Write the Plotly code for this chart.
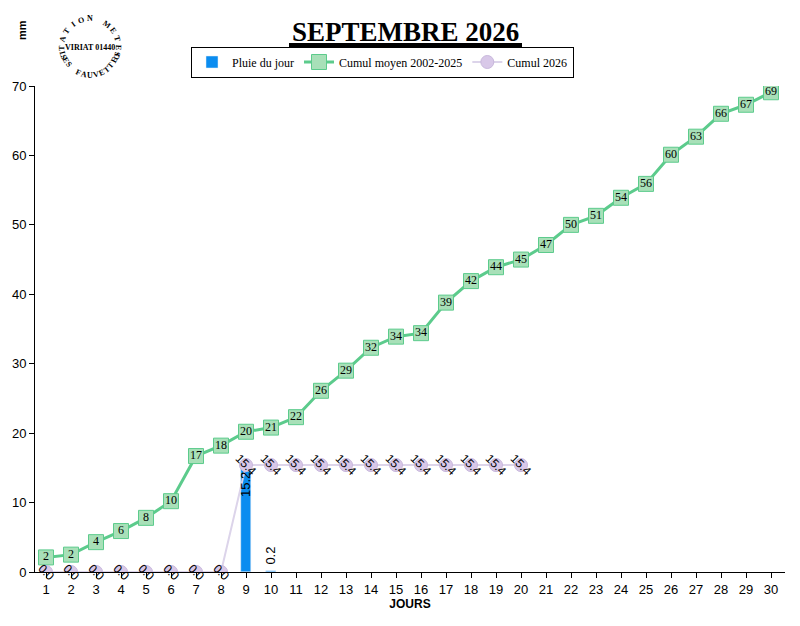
import plotly.graph_objects as go
import math

days = list(range(1, 31))
pluie_days = [9, 10]
pluie = [15.2, 0.2]
moyen = [2.1, 2.5, 4.3, 5.9, 7.8, 10.2, 16.7, 18.2, 20.2, 20.8, 22.3, 26.1, 29.0, 32.3, 33.9,
         34.4, 38.8, 41.9, 43.9, 45.0, 47.1, 50.0, 51.3, 53.9, 55.9, 60.1, 62.7, 66.0, 67.3, 69.1]
cumul_days = list(range(1, 21))
cumul = [0.0]*8 + [15.4]*12

fig = go.Figure()
fig.add_trace(go.Bar(x=pluie_days, y=pluie, name="Pluie du jour", marker_color="#0a8cf0", width=0.4))
fig.add_trace(go.Scatter(x=days, y=moyen, name="Cumul moyen 2002-2025", mode="lines+markers+text",
                         line=dict(color="#5ccb8c", width=3),
                         marker=dict(symbol="square", size=15, color="#a8e0b8", line=dict(color="#5ccb8c", width=1)),
                         text=[f"{v:.0f}" for v in moyen], textposition="middle center",
                         textfont=dict(family="Liberation Serif", size=12, color="black")))
fig.add_trace(go.Scatter(x=cumul_days, y=cumul, name="Cumul 2026", mode="lines+markers",
                         line=dict(color="#dcd4ea", width=2),
                         marker=dict(symbol="circle", size=13, color="#d8c8e8", line=dict(color="#c8b8dc", width=1))))
for d, v in zip(cumul_days, cumul):
    fig.add_annotation(x=d, y=v, text=f"{v:.1f}", showarrow=False, textangle=45,
                       font=dict(family="Liberation Sans", size=12, color="black"))
fig.add_annotation(x=pluie_days[0], y=pluie[0], text=f"{pluie[0]:.1f}", showarrow=False, textangle=-90,
                   yanchor="top", yshift=-4, font=dict(family="Liberation Sans", size=13, color="black"))
fig.add_annotation(x=pluie_days[1], y=pluie[1], text=f"{pluie[1]:.1f}", showarrow=False, textangle=-90,
                   yanchor="bottom", yshift=4, font=dict(family="Liberation Sans", size=13, color="black"))

def px(xp, yp):
    return (xp - 35) / 750, (572 - yp) / 486

# title
tx, ty = px(405, 32)
fig.add_annotation(xref="paper", yref="paper", x=tx, y=ty, yanchor="middle", xanchor="center",
                   text="<b>SEPTEMBRE 2026</b>", showarrow=False,
                   font=dict(family="Liberation Serif", size=27, color="black"))
x0, yl = px(289, 45)
x1, _ = px(522, 45)
fig.add_shape(type="line", xref="paper", yref="paper", x0=x0, x1=x1, y0=yl, y1=yl,
              line=dict(color="black", width=4))
mx, my = px(22, 30)
fig.add_annotation(xref="paper", yref="paper", x=mx, y=my, yanchor="middle", xanchor="center",
                   text="<b>mm</b>", showarrow=False, textangle=-90,
                   font=dict(family="Liberation Sans", size=11, color="black"))

# logo
cx, cy, r = 90, 47, 28
lx, ly = px(cx, cy)
fig.add_annotation(xref="paper", yref="paper", x=lx, y=ly, yanchor="middle", xanchor="center",
                   text="<b>VIRIAT 01440</b>", showarrow=False,
                   font=dict(family="Liberation Serif", size=8, color="black"))
top = "STATION METEO"
for i, ch in enumerate(top):
    a = math.radians(200 - i * (220 / (len(top) - 1)))
    xx, yy = px(cx + r * math.cos(a), cy - r * math.sin(a))
    fig.add_annotation(xref="paper", yref="paper", x=xx, y=yy, yanchor="middle", xanchor="center",
                       text=f"<b>{ch}</b>", showarrow=False, textangle=90 - math.degrees(a),
                       font=dict(family="Liberation Serif", size=8, color="black"))
bot = "LES FAUVETTES"
for i, ch in enumerate(bot):
    a = math.radians(195 + i * (150 / (len(bot) - 1)))
    xx, yy = px(cx + r * math.cos(a), cy - r * math.sin(a))
    fig.add_annotation(xref="paper", yref="paper", x=xx, y=yy, yanchor="middle", xanchor="center",
                       text=f"<b>{ch}</b>", showarrow=False, textangle=270 - math.degrees(a),
                       font=dict(family="Liberation Serif", size=8, color="black"))

gx, gy = px(191, 62)
fig.update_layout(
    width=800, height=626, plot_bgcolor="white", paper_bgcolor="white",
    margin=dict(l=27, r=23, t=78, b=62),
    showlegend=True, bargap=0,
    legend=dict(orientation="h", x=gx, y=gy, xanchor="left", yanchor="middle",
                bordercolor="black", borderwidth=1, tracegroupgap=0, itemwidth=30,
                font=dict(family="Liberation Serif", size=12, color="black")),
    xaxis=dict(range=[0.56, 30.56], tickvals=days, showline=True, linecolor="black", ticks="outside",
               tickcolor="black", ticklen=5, showgrid=False, zeroline=False, automargin=False,
               tickfont=dict(family="Liberation Sans", size=13, color="black"),
               title=dict(text="<b>JOURS</b>", standoff=2, font=dict(family="Liberation Sans", size=12, color="black"))),
    yaxis=dict(range=[0, 70], dtick=10, showline=True, linecolor="black", ticks="outside", tickcolor="black",
               ticklen=5, showgrid=False, zeroline=False, automargin=False,
               tickfont=dict(family="Liberation Sans", size=13, color="black")),
)
fig.write_html("out.html")
